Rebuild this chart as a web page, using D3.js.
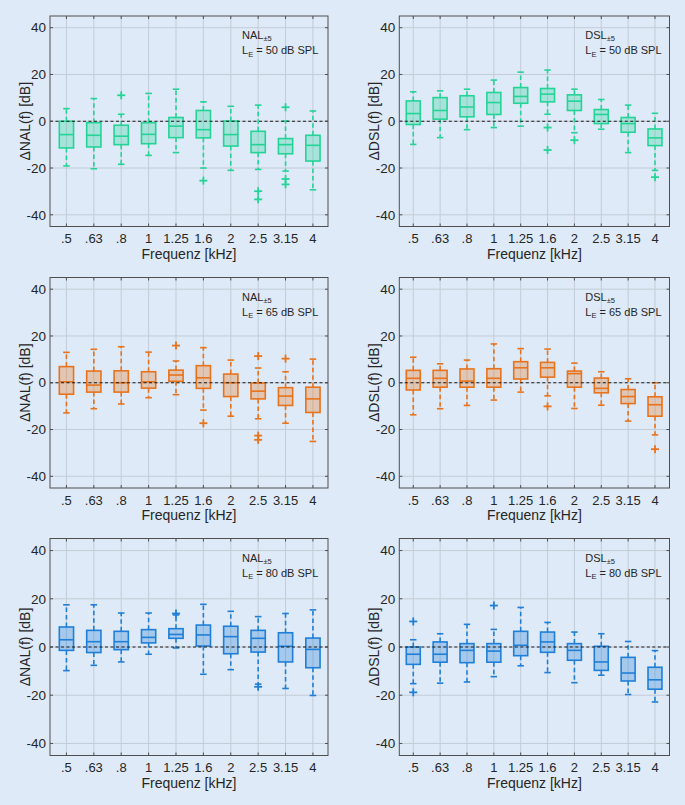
<!DOCTYPE html>
<html><head><meta charset="utf-8">
<script src="https://cdn.jsdelivr.net/npm/d3@7"></script>
<style>
html,body{margin:0;padding:0;background:#deeaf7;}
text{font-family:"Liberation Sans",Arial,Helvetica,sans-serif;fill:#262626;}
</style></head>
<body>
<svg id="chart" width="685" height="805"></svg>
<script>
// ---- data ----
const freqLabels = [".5", ".63", ".8", "1", "1.25", "1.6", "2", "2.5", "3.15", "4"];
const yTicks = [-40, -20, 0, 20, 40];

// NAL, 50 dB SPL
const nal50Hi  = [5.4, 9.7, 3, 11.9, 13.7, 8.3, 6.4, 6.9, 0.1, 4.4];
const nal50Q3  = [0, -0.6, -1.7, -0.6, 1.6, 4.6, 0.1, -4.3, -7.4, -6];
const nal50Med = [-5.7, -6, -6.4, -5.6, -2.1, -3.6, -5.7, -10, -10, -10.3];
const nal50Q1  = [-11.4, -11, -10, -9.6, -7, -7.1, -10.6, -13.4, -13.9, -17];
const nal50Lo  = [-19.1, -20.3, -18.4, -14.6, -13.4, -20, -21, -20.6, -21.3, -29.3];
const nal50Out = [[], [], [11.1], [], [], [-25.4], [], [-29.9, -33.4], [6, -24.7, -27], []];

// DSL, 50 dB SPL
const dsl50Hi  = [12.6, 13, 13.7, 17.6, 21, 21.9, 13.7, 9.3, 6.9, 3.4];
const dsl50Q3  = [8.7, 10.1, 10.9, 12.3, 14.4, 14, 11.3, 5, 1.6, -3.3];
const dsl50Med = [3.3, 4.6, 6.1, 8, 10.6, 11.6, 8.6, 2.9, -1, -7.1];
const dsl50Q1  = [-1.4, 0.9, 1.9, 2.9, 7.7, 8.3, 4.6, -1, -4.7, -10.4];
const dsl50Lo  = [-9.9, -7, -3.6, -2.7, -2.1, 3, -4.9, -3.4, -13.4, -21];
const dsl50Out = [[], [], [], [], [], [-2.7, -12.3], [-8.1], [], [], [-23.9]];

// NAL, 65 dB SPL
const nal65Hi  = [13, 14.3, 15.4, 13.1, 9.3, 15, 9.7, 6.3, 4.7, 10.1];
const nal65Q3  = [6.9, 5, 5.1, 4.7, 5.4, 7.3, 3.7, -0.1, -2.1, -1.9];
const nal65Med = [0.4, -1, 0, 0.4, 3.3, 2.1, 0, -3.6, -5.7, -6.9];
const nal65Q1  = [-4.9, -4, -4, -2.3, 0.6, -2.4, -5.9, -6.9, -9.7, -12.7];
const nal65Lo  = [-12.9, -11.1, -9.1, -6.4, -5.1, -11.7, -14.3, -15.4, -17.3, -25.1];
const nal65Out = [[], [], [], [], [15.9], [-17.3], [], [11.4, -22.6, -24.4], [10.3], []];

// DSL, 65 dB SPL
const dsl65Hi  = [10.9, 8.1, 9.7, 16.6, 14.6, 14.4, 8.4, 4.7, 1.7, 0];
const dsl65Q3  = [5.3, 5.3, 5.9, 6, 9, 8.7, 5, 2, -2.9, -6];
const dsl65Med = [1.9, 1.9, 0.7, 1.9, 6.4, 6.4, 3.9, -2.4, -5.9, -9.4];
const dsl65Q1  = [-3.1, -1.9, -1.9, -1.9, 1.6, 2.4, -1.9, -4.3, -8.9, -14.3];
const dsl65Lo  = [-13.7, -11.1, -9.7, -7.4, -4, -5.6, -11, -9.6, -16.4, -22.3];
const dsl65Out = [[], [], [], [], [], [-10.1], [], [], [], [-28.4]];

// NAL, 80 dB SPL
const nal80Hi  = [17.5, 17.5, 14.1, 14.1, 13.3, 17.7, 14.8, 12.6, 13.9, 15.4];
const nal80Q3  = [8.3, 6.9, 6.5, 7.2, 7.6, 9.1, 8.6, 6.9, 5.9, 3.7];
const nal80Med = [3, 2.2, 2.2, 4, 5.2, 5, 4.3, 3.6, 0.3, -1];
const nal80Q1  = [-1.4, -2.3, -1.1, 1.7, 3.6, 0.4, -2.8, -2.1, -6.2, -8.6];
const nal80Lo  = [-9.8, -7.6, -6.2, -3, -0.4, -11.3, -9.4, -15.4, -17.2, -20.1];
const nal80Out = [[], [], [], [], [13.9], [], [], [-16.5], [], []];

// DSL, 80 dB SPL
const dsl80Hi  = [3, 5.5, 9.4, 7.3, 16.4, 10.2, 6.2, 5.5, 2.3, -1.5];
const dsl80Q3  = [0, 2.1, 1.4, 1.4, 6.5, 6.2, 1.4, 0.3, -4.3, -8.4];
const dsl80Med = [-3, -3, -1.4, -1.7, 0.7, 2.1, -1.4, -6.2, -10.8, -13.6];
const dsl80Q1  = [-7.2, -6.3, -6.5, -6.3, -3.6, -2.2, -5.5, -9.7, -14.1, -17.5];
const dsl80Lo  = [-15.2, -15, -14.5, -12.3, -7.8, -10.6, -14.8, -11.7, -19.7, -22.8];
const dsl80Out = [[10.6, -18.8], [], [], [17.2], [], [], [], [], [], []];

const methods = ["NAL", "DSL"];
const levels = [50, 65, 80];

// ---- layout / style ----
const colColor = ["#24d497", "#e8731c", "#1f7fd8"];
const colX = [[50, 328], [399.3, 669.5]];
const colDomain = [[0.4, 10.55], [0.48, 10.54]];
const rowY = [[16, 226.5], [277.5, 488], [538.5, 755.5]];
const annX = [192, 186];

const panels = [
  {m:0, r:0, hi:nal50Hi, q3:nal50Q3, med:nal50Med, q1:nal50Q1, lo:nal50Lo, out:nal50Out},
  {m:1, r:0, hi:dsl50Hi, q3:dsl50Q3, med:dsl50Med, q1:dsl50Q1, lo:dsl50Lo, out:dsl50Out},
  {m:0, r:1, hi:nal65Hi, q3:nal65Q3, med:nal65Med, q1:nal65Q1, lo:nal65Lo, out:nal65Out},
  {m:1, r:1, hi:dsl65Hi, q3:dsl65Q3, med:dsl65Med, q1:dsl65Q1, lo:dsl65Lo, out:dsl65Out},
  {m:0, r:2, hi:nal80Hi, q3:nal80Q3, med:nal80Med, q1:nal80Q1, lo:nal80Lo, out:nal80Out},
  {m:1, r:2, hi:dsl80Hi, q3:dsl80Q3, med:dsl80Med, q1:dsl80Q1, lo:dsl80Lo, out:dsl80Out}
];

const svg = d3.select("#chart");
svg.append("rect").attr("width", 685).attr("height", 805).attr("fill", "#deeaf7");

panels.forEach(p => {
  const [x0, x1] = colX[p.m];
  const [y0, y1] = rowY[p.r];
  const color = colColor[p.r];
  const x = d3.scaleLinear().domain(colDomain[p.m]).range([x0, x1]);
  const y = d3.scaleLinear().domain([-45, 45]).range([y1, y0]);
  const g = svg.append("g");
  const idx = d3.range(freqLabels.length);

  // grid
  g.selectAll(".gx").data(idx).join("line")
    .attr("x1", i => x(i + 1)).attr("x2", i => x(i + 1))
    .attr("y1", y0).attr("y2", y1)
    .attr("stroke", "#c3ccd7").attr("stroke-width", 1);
  g.selectAll(".gy").data(yTicks).join("line")
    .attr("x1", x0).attr("x2", x1)
    .attr("y1", d => y(d)).attr("y2", d => y(d))
    .attr("stroke", "#c3ccd7").attr("stroke-width", 1);

  const bw = 0.26, cw = 0.12;
  const boxes = g.selectAll(".box").data(idx).join("g");
  // whiskers (dashed)
  boxes.append("line")
    .attr("x1", i => x(i + 1)).attr("x2", i => x(i + 1))
    .attr("y1", i => y(p.q3[i])).attr("y2", i => y(p.hi[i]))
    .attr("stroke", color).attr("stroke-width", 1.6).attr("stroke-dasharray", "4.5,3");
  boxes.append("line")
    .attr("x1", i => x(i + 1)).attr("x2", i => x(i + 1))
    .attr("y1", i => y(p.q1[i])).attr("y2", i => y(p.lo[i]))
    .attr("stroke", color).attr("stroke-width", 1.6).attr("stroke-dasharray", "4.5,3");
  // caps
  boxes.append("line")
    .attr("x1", i => x(i + 1 - cw)).attr("x2", i => x(i + 1 + cw))
    .attr("y1", i => y(p.hi[i])).attr("y2", i => y(p.hi[i]))
    .attr("stroke", color).attr("stroke-width", 1.6);
  boxes.append("line")
    .attr("x1", i => x(i + 1 - cw)).attr("x2", i => x(i + 1 + cw))
    .attr("y1", i => y(p.lo[i])).attr("y2", i => y(p.lo[i]))
    .attr("stroke", color).attr("stroke-width", 1.6);
  // box
  boxes.append("rect")
    .attr("x", i => x(i + 1 - bw)).attr("width", i => x(i + 1 + bw) - x(i + 1 - bw))
    .attr("y", i => y(p.q3[i])).attr("height", i => y(p.q1[i]) - y(p.q3[i]))
    .attr("fill", color).attr("fill-opacity", 0.3)
    .attr("stroke", color).attr("stroke-width", 1.6);
  // median
  boxes.append("line")
    .attr("x1", i => x(i + 1 - bw)).attr("x2", i => x(i + 1 + bw))
    .attr("y1", i => y(p.med[i])).attr("y2", i => y(p.med[i]))
    .attr("stroke", color).attr("stroke-width", 1.6);
  // outliers
  const outs = [];
  p.out.forEach((arr, i) => arr.forEach(v => outs.push({i, v})));
  const pg = g.selectAll(".out").data(outs).join("g")
    .attr("transform", d => `translate(${x(d.i + 1)},${y(d.v)})`);
  pg.append("line").attr("x1", -4).attr("x2", 4).attr("stroke", color).attr("stroke-width", 1.8);
  pg.append("line").attr("y1", -4).attr("y2", 4).attr("stroke", color).attr("stroke-width", 1.8);

  // zero line
  g.append("line").attr("x1", x0).attr("x2", x1).attr("y1", y(0)).attr("y2", y(0))
    .attr("stroke", "#1a1a1a").attr("stroke-width", 1).attr("stroke-dasharray", "3,2.5");

  // frame
  g.append("rect").attr("x", x0).attr("y", y0).attr("width", x1 - x0).attr("height", y1 - y0)
    .attr("fill", "none").attr("stroke", "#4f4f4f").attr("stroke-width", 1);
  // ticks
  g.selectAll(".ty").data(yTicks).join("g").call(s => {
    s.append("line").attr("x1", x0).attr("x2", x0 + 3).attr("y1", d => y(d)).attr("y2", d => y(d)).attr("stroke", "#4f4f4f");
    s.append("line").attr("x1", x1).attr("x2", x1 - 3).attr("y1", d => y(d)).attr("y2", d => y(d)).attr("stroke", "#4f4f4f");
  });
  g.selectAll(".tx").data(idx).join("g").call(s => {
    s.append("line").attr("x1", i => x(i + 1)).attr("x2", i => x(i + 1)).attr("y1", y1).attr("y2", y1 - 3).attr("stroke", "#4f4f4f");
    s.append("line").attr("x1", i => x(i + 1)).attr("x2", i => x(i + 1)).attr("y1", y0).attr("y2", y0 + 3).attr("stroke", "#4f4f4f");
  });

  // tick labels
  g.selectAll(".yl").data(yTicks).join("text")
    .attr("x", x0 - 4).attr("y", d => y(d)).attr("dy", "0.35em")
    .attr("text-anchor", "end").attr("font-size", 13.5).text(d => d);
  g.selectAll(".xl").data(idx).join("text")
    .attr("x", i => x(i + 1)).attr("y", y1 + 16.5)
    .attr("text-anchor", "middle").attr("font-size", 13).text(i => freqLabels[i]);

  // axis labels
  g.append("text").attr("x", (x0 + x1) / 2).attr("y", y1 + 32)
    .attr("text-anchor", "middle").attr("font-size", 14).text("Frequenz [kHz]");
  g.append("text")
    .attr("transform", `translate(${x0 - 25},${(y0 + y1) / 2}) rotate(-90)`)
    .attr("dy", "0.35em").attr("text-anchor", "middle").attr("font-size", 14)
    .text(`ΔNAL(f) [dB]`.replace("NAL", methods[p.m]));

  // annotation
  const t1 = g.append("text").attr("x", x0 + annX[p.m]).attr("y", y0 + 23).attr("font-size", 11);
  t1.append("tspan").text(methods[p.m]);
  t1.append("tspan").attr("font-size", 7.5).attr("dy", 2).text("±5");
  const t2 = g.append("text").attr("x", x0 + annX[p.m]).attr("y", y0 + 38).attr("font-size", 11);
  t2.append("tspan").text("L");
  t2.append("tspan").attr("font-size", 7.5).attr("dy", 2.5).text("E");
  t2.append("tspan").attr("dy", -2.5).text(` = ${levels[p.r]} dB SPL`);
});
</script>
</body></html>
